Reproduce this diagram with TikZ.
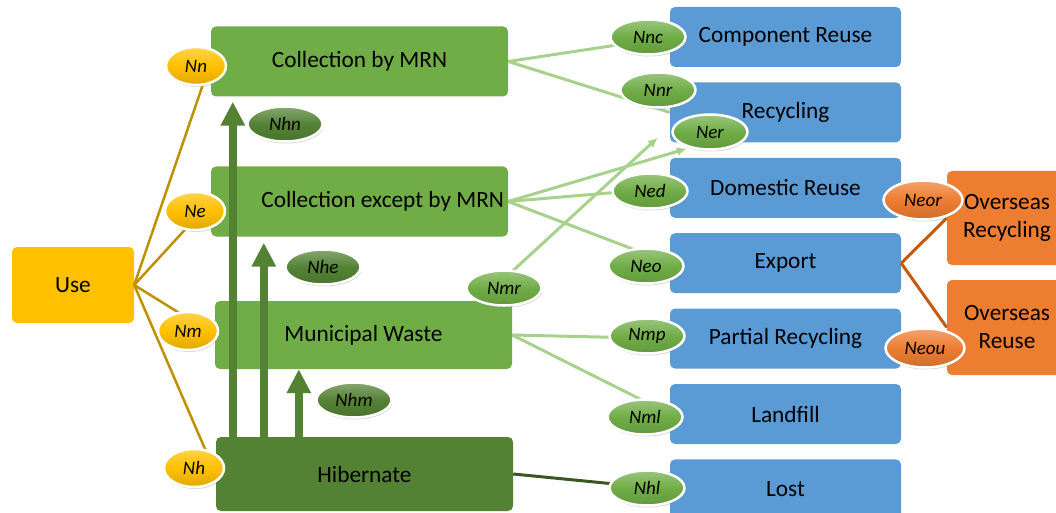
\documentclass[tikz,border=0pt]{standalone}
\usepackage{fontspec}
\setmainfont{Carlito}
\usetikzlibrary{positioning, calc, shapes.geometric, arrows.meta, shadows}

\definecolor{useyellow}{HTML}{FFC000}
\definecolor{useline}{HTML}{BF9000}
\definecolor{boxgreen}{HTML}{70AD47}
\definecolor{darkgreen}{HTML}{548235}
\definecolor{linegreen}{HTML}{A9D18E}
\definecolor{lostline}{HTML}{385723}
\definecolor{boxblue}{HTML}{5B9BD5}
\definecolor{boxorange}{HTML}{ED7D31}
\definecolor{lineorange}{HTML}{C55A11}

\newcommand{\boxfont}{\fontsize{23.3}{28}\selectfont}

\begin{document}
\begin{tikzpicture}[
          x=1pt, y=-1pt,
          box/.style={
              rectangle, rounded corners=5pt, align=center, inner sep=0pt,
              minimum width=297pt, minimum height=70pt,
              font=\boxfont
          },
          greenbox/.style={box, fill=boxgreen},
          bluebox/.style={box, fill=boxblue, minimum width=231pt, minimum height=60pt},
          flow/.style={ellipse, draw=white, line width=2.5pt, inner sep=0pt,
              minimum width=75pt, minimum height=35pt,
              top color=#1!70!white, bottom color=#1!88!black, middle color=#1,
              font=\fontsize{19}{21}\selectfont\itshape,
              drop shadow={opacity=0.3, shadow xshift=1pt, shadow yshift=-2pt}},
          yflow/.style={flow=useyellow, minimum width=60pt, minimum height=38pt},
          gflow/.style={flow=boxgreen},
          dflow/.style={flow=darkgreen},
          oflow/.style={flow=boxorange, minimum width=79pt, minimum height=39pt},
          useedge/.style={draw=useline, line width=2.5pt},
          lgedge/.style={draw=linegreen, line width=3pt},
          hibarrow/.style={draw=darkgreen, line width=8pt, -{Triangle[width=23pt, length=24pt]}},
          >={Latex[length=10pt, width=9pt]},
      ]
          \useasboundingbox (0,0) rectangle (1056,513);

          % Stages
          \node [box, fill=useyellow, minimum width=122pt, minimum height=76pt] (use) at (73,285) {Use};
          \node [greenbox] (cbm) at (359.5,61.5) {Collection by MRN};
          \node [greenbox, label={[anchor=east, inner sep=0pt, xshift=-4pt, font=\boxfont]east:Collection except by MRN}] (cem) at (359.5,201.5) {};
          \node [greenbox, minimum height=68pt] (mw) at (363.5,335) {Municipal Waste};
          \node [greenbox, fill=darkgreen, minimum height=74pt] (hib) at (364.5,474) {Hibernate};

          % End of life
          \node [bluebox] (comp) at (785.5,37) {Component Reuse};
          \node [bluebox, below=15pt of comp] (recy) {Recycling};
          \node [bluebox, below=15pt of recy] (dom) {Domestic Reuse};
          \node [bluebox, below=15pt of dom] (exp) {Export};
          \node [bluebox, below=15pt of exp] (part) {Partial Recycling};
          \node [bluebox, below=15pt of part] (land) {Landfill};
          \node [bluebox, below=15pt of land] (lost) {Lost};

          \node [box, fill=boxorange, minimum width=120pt, minimum height=94pt] (ovrec) at (1007,218) {Overseas\\Recycling};
          \node [box, fill=boxorange, minimum width=120pt, minimum height=95pt] (ovreu) at (1007,327.5) {Overseas\\Reuse};

          % Lines
          \draw [useedge] (use.east) -- (cbm.west);
          \draw [useedge] (use.east) -- (cem.west);
          \draw [useedge] (use.east) -- (mw.west);
          \draw [useedge] (use.east) -- (hib.west);

          \coordinate (ertip) at ([xshift=17pt, yshift=-6pt]recy.south west);
          \coordinate (mrtip) at ([xshift=-12pt, yshift=5pt]recy.south west);
          \coordinate (mrfoot) at ([xshift=-32pt]mw.north east);

          \draw [lgedge] (cbm.east) -- (comp.west);
          \draw [lgedge] (cbm.east) -- (recy.west);
          \draw [lgedge, ->] (cem.east) -- (ertip);
          \draw [lgedge] (cem.east) -- (dom.west);
          \draw [lgedge] (cem.east) -- (exp.west);
          \draw [lgedge, ->] (mrfoot) -- (mrtip);
          \draw [lgedge] (mw.east) -- (part.west);
          \draw [lgedge] (mw.east) -- (land.west);
          \draw [draw=lostline, line width=3pt] (hib.east) -- (lost.west);

          \draw [draw=lineorange, line width=3pt] (exp.east) -- (ovrec.west);
          \draw [draw=lineorange, line width=3pt] (exp.east) -- (ovreu.west);

          % Arrows from Hibernate
          \draw [hibarrow, shorten >=5pt] ([xshift=17pt]hib.north west) -- ([xshift=17pt]hib.north west |- cbm.south);
          \draw [hibarrow, shorten >=6pt] ([xshift=48pt]hib.north west) -- ([xshift=48pt]hib.north west |- cem.south);
          \draw [hibarrow] ([xshift=83pt]hib.north west) -- ([xshift=83pt]hib.north west |- mw.south);

          % Flow labels
          \node [yflow] (Nn) at (196,66) {Nn};
          \node [yflow] (Ne) at (195,211) {Ne};
          \node [yflow] (Nm) at (188,331) {Nm};
          \node [yflow] (Nh) at (194,468) {Nh};

          \node [dflow] (Nhn) at (285,124) {Nhn};
          \node [dflow] (Nhe) at (323,267) {Nhe};
          \node [dflow] (Nhm) at (354,400) {Nhm};

          \node [gflow] (Nnc) at (648,37) {Nnc};
          \node [gflow] (Nnr) at (658,90) {Nnr};
          \node [gflow] (Ner) at (710,132) {Ner};
          \node [gflow] (Ned) at (650,191) {Ned};
          \node [gflow] (Neo) at (646,266) {Neo};
          \node [gflow] (Nmr) at (504,288) {Nmr};
          \node [gflow] (Nmp) at (647,336) {Nmp};
          \node [gflow] (Nml) at (645,417) {Nml};
          \node [gflow] (Nhl) at (647,488) {Nhl};

          \node [oflow] (Neor) at (923,200) {Neor};
          \node [oflow] (Neou) at (925,348) {Neou};
        \end{tikzpicture}
\end{document}
